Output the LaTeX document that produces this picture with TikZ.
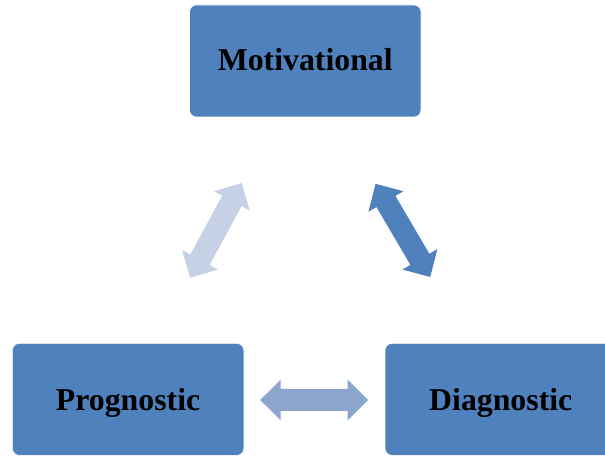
\documentclass[tikz,border=0pt]{standalone}
\usepackage{fontspec}
\setmainfont{Liberation Serif}
\definecolor{boxblue}{HTML}{4F81BD}
\definecolor{lightarrow}{HTML}{C6D1E5}
\definecolor{midarrow}{HTML}{8BA5CC}
\tikzset{
  box/.style={fill=boxblue, draw=white, line width=0.6bp, rounded corners=7bp,
    minimum width=231.5bp, minimum height=112bp, inner sep=0pt},
  lbl/.style={anchor=base, inner sep=0pt, font=\fontsize{31.8bp}{38bp}\selectfont\bfseries},
  dblarrow/.pic={
    \fill (-54,0) -- (-33.5,20.3) -- (-33.5,11) -- (33.5,11) -- (33.5,20.3) -- (54,0)
      -- (33.5,-20.3) -- (33.5,-11) -- (-33.5,-11) -- (-33.5,-20.3) -- cycle;
  }
}
\begin{document}
\begin{tikzpicture}[x=1bp,y=1bp]
\useasboundingbox (0,0) rectangle (605,456);
\clip (0,0) rectangle (605,456);
% boxes
\node[box] (mot) at (305.25,395) {};
\node[box] (pro) at (128.1,56.6) {};
\node[box] (dia) at (500.75,56.6) {};
\node[lbl] (motl) at (305.25,385) {Motivational};
\node[lbl] (prol) at (128.1,45.5) {Prognostic};
\node[lbl] (dial) at (500.75,45.5) {Diagnostic};
% block arrows
\pic[fill=lightarrow, rotate=61.5] (a1) at (215.9,225.6) {dblarrow};
\pic[fill=boxblue, rotate=-59.6] (a2) at (402.9,225.6) {dblarrow};
\pic[fill=midarrow] (a3) at (314.2,56) {dblarrow};
\end{tikzpicture}
\end{document}
